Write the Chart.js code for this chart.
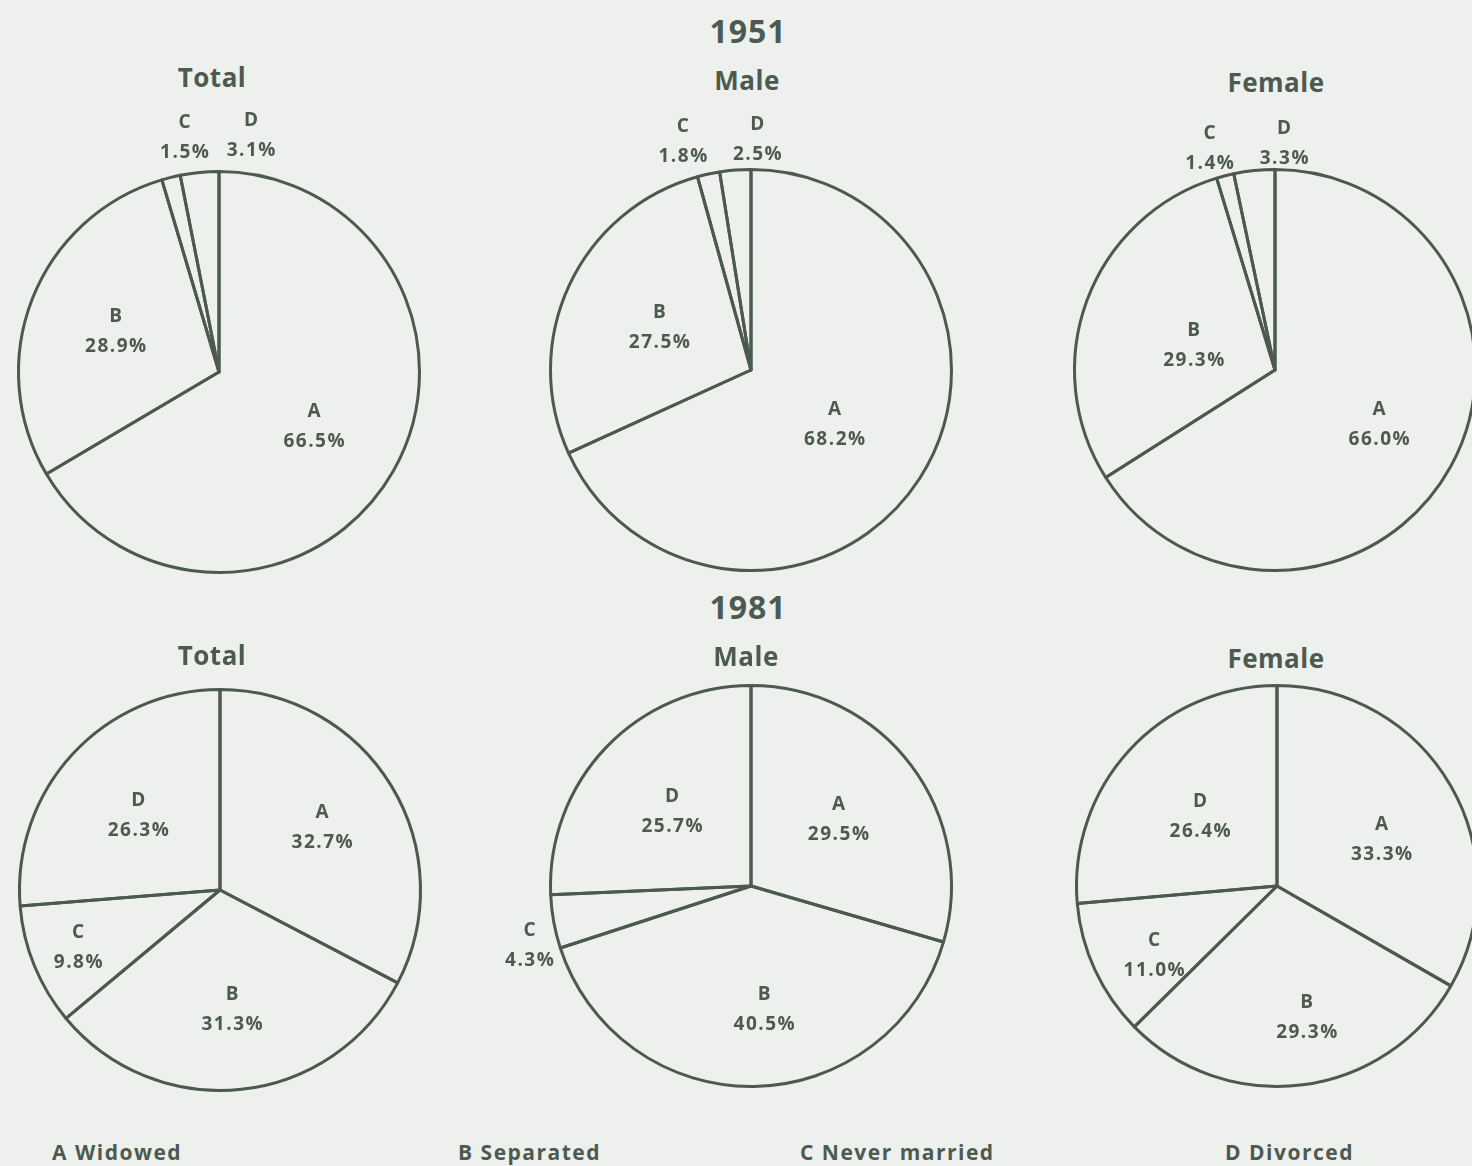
<!DOCTYPE html>
<html>
<head>
<meta charset="utf-8">
<script src="https://cdn.jsdelivr.net/npm/chart.js@4.4.1/dist/chart.umd.min.js"></script>
<style>
  html, body { margin: 0; padding: 0; }
  body {
    width: 1472px; height: 1166px; overflow: hidden; position: relative;
    background: #eef0ed;
    font-family: "Open Sans", "Noto Sans", sans-serif;
    color: #4d5a50;
  }
  .txt { position: absolute; transform: translate(-50%, -50%); font-weight: 700; white-space: nowrap; }
  .year { font-size: 32px; letter-spacing: 1px; }
  .sub { font-size: 26px; letter-spacing: 0.5px; }
  .leg { position: absolute; font-size: 21px; font-weight: 700; top: 1138px; white-space: nowrap; letter-spacing: 1.5px; }
  canvas { position: absolute; }
</style>
</head>
<body>
<div class="txt year" style="left:748px; top:30px;">1951</div>
<div class="txt year" style="left:748px; top:606px;">1981</div>

<div class="leg" style="left:52px;">A Widowed</div>
<div class="leg" style="left:458px;">B Separated</div>
<div class="leg" style="left:800px;">C Never married</div>
<div class="leg" style="left:1225px;">D Divorced</div>

<script>
// categories in slice order, clockwise from 12 o'clock
const categories = ['A', 'B', 'C', 'D'];

// percentages per panel
const total1951 = [66.5, 28.9, 1.5, 3.1];
const male1951 = [68.2, 27.5, 1.8, 2.5];
const female1951 = [66.0, 29.3, 1.4, 3.3];
const total1981 = [32.7, 31.3, 9.8, 26.3];
const male1981 = [29.5, 40.5, 4.3, 25.7];
const female1981 = [33.3, 29.3, 11.0, 26.4];

const LINE = '#4c5a4e';
const TEXT = '#4d5a50';
const CANVAS = 540;
const PAD = 70;

// layout: pie centre, title position, label placement [angle from top (deg) or null = slice middle, radius ratio]
const panels = [
  { title: 'Total',  data: total1951,  cx: 219,  cy: 372, tx: 212,  ty: 77,
    labels: [[null, 0.55], [null, 0.55], [-8.2, 1.18], [7.9, 1.19]] },
  { title: 'Male',   data: male1951,   cx: 751,  cy: 370, tx: 747,  ty: 80,
    labels: [[null, 0.5], [null, 0.5], [-16.4, 1.19], [1.75, 1.15]] },
  { title: 'Female', data: female1951, cx: 1275, cy: 370, tx: 1276, ty: 82,
    labels: [[117.6, 0.59], [287, 0.42], [-16.3, 1.15], [2.5, 1.13]] },
  { title: 'Total',  data: total1981,  cx: 220,  cy: 890, tx: 212,  ty: 655,
    labels: [[null, 0.6], [null, 0.6], [null, 0.76], [null, 0.55]] },
  { title: 'Male',   data: male1981,   cx: 751,  cy: 886, tx: 746,  ty: 656,
    labels: [[null, 0.55], [173.6, 0.62], [255, 1.14], [null, 0.54]] },
  { title: 'Female', data: female1981, cx: 1277, cy: 886, tx: 1276, ty: 658,
    labels: [[66, 0.575], [167, 0.675], [240.5, 0.7], [null, 0.515]] }
];

// draws "A / 66.5%" labels relative to each arc
const sliceLabels = {
  id: 'sliceLabels',
  afterDatasetsDraw(chart, args, opts) {
    const ctx = chart.ctx;
    const meta = chart.getDatasetMeta(0);
    const values = chart.data.datasets[0].data;
    ctx.save();
    ctx.fillStyle = TEXT;
    ctx.font = 'bold 19px "Open Sans", "Noto Sans", sans-serif';
    ctx.letterSpacing = '1.5px';
    ctx.textAlign = 'center';
    ctx.textBaseline = 'middle';
    meta.data.forEach((arc, i) => {
      const p = arc.getProps(['x', 'y', 'startAngle', 'endAngle', 'outerRadius'], true);
      const place = opts.placement[i];
      const ang = place[0] === null
        ? (p.startAngle + p.endAngle) / 2
        : (place[0] - 90) * Math.PI / 180;
      const r = p.outerRadius * place[1];
      const x = p.x + Math.cos(ang) * r;
      const y = p.y + Math.sin(ang) * r;
      ctx.fillText(chart.data.labels[i], x, y - 15);
      ctx.fillText(values[i].toFixed(1) + '%', x, y + 15);
    });
    ctx.restore();
  }
};

panels.forEach(panel => {
  const t = document.createElement('div');
  t.className = 'txt sub';
  t.style.left = panel.tx + 'px';
  t.style.top = panel.ty + 'px';
  t.textContent = panel.title;
  document.body.appendChild(t);

  const canvas = document.createElement('canvas');
  canvas.width = CANVAS;
  canvas.height = CANVAS;
  canvas.style.width = CANVAS + 'px';
  canvas.style.height = CANVAS + 'px';
  canvas.style.left = (panel.cx - CANVAS / 2) + 'px';
  canvas.style.top = (panel.cy - CANVAS / 2) + 'px';
  document.body.appendChild(canvas);

  new Chart(canvas.getContext('2d'), {
    type: 'pie',
    data: {
      labels: categories,
      datasets: [{
        data: panel.data,
        backgroundColor: 'rgba(0,0,0,0)',
        borderColor: LINE,
        borderWidth: 3,
        borderJoinStyle: 'round'
      }]
    },
    options: {
      responsive: false,
      animation: false,
      layout: { padding: PAD - 2 },
      plugins: {
        legend: { display: false },
        tooltip: { enabled: false },
        sliceLabels: { placement: panel.labels }
      }
    },
    plugins: [sliceLabels]
  });
});
</script>
</body>
</html>
